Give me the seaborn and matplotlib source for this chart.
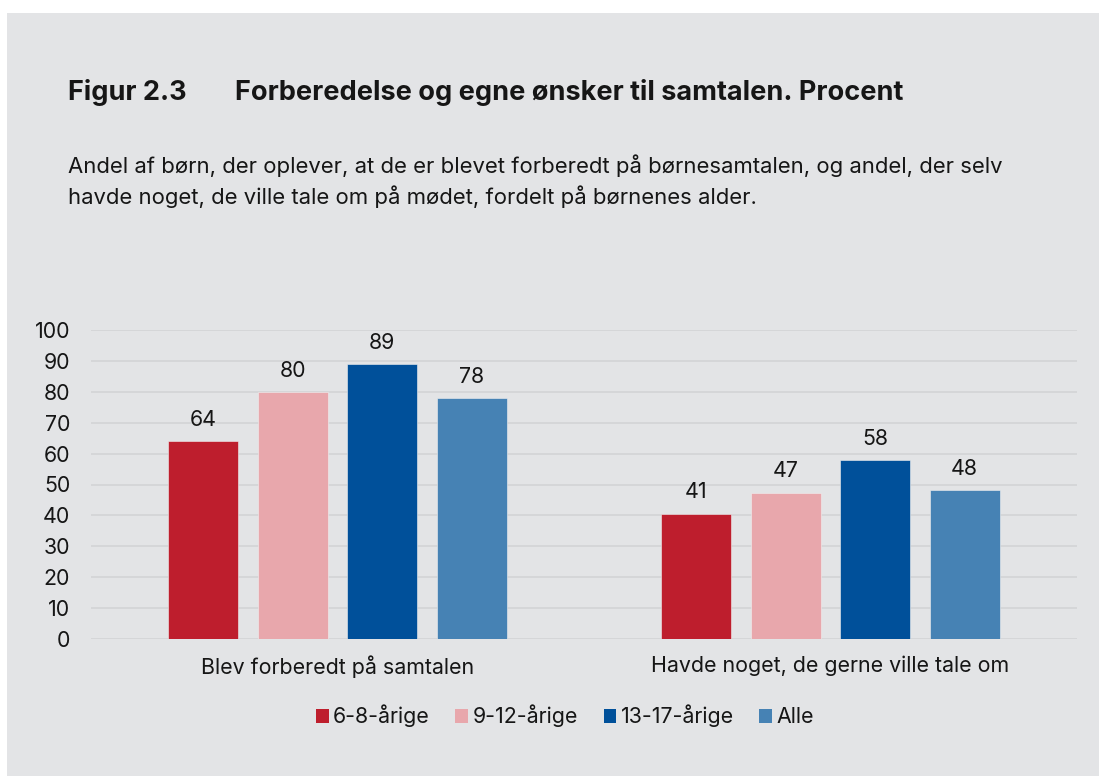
import seaborn as sns
import matplotlib.pyplot as plt
import pandas as pd
from matplotlib.patches import Patch, Rectangle

sns.set_style("white")
plt.rcParams["font.family"] = ["Inter", "DejaVu Sans"]

# Data
categories = ["Blev forberedt på samtalen", "Havde noget, de gerne ville tale om"]
age_groups = ["6-8-årige", "9-12-årige", "13-17-årige", "Alle"]
prepared = [64, 80, 89, 78]
wanted_to_talk = [40.6, 47.4, 58.0, 48.2]
colors = ["#be1e2d", "#e8a7ac", "#00509a", "#4682b4"]

rows = []
for grp, v1, v2 in zip(age_groups, prepared, wanted_to_talk):
    rows.append({"kategori": categories[0], "alder": grp, "procent": v1})
    rows.append({"kategori": categories[1], "alder": grp, "procent": v2})
df = pd.DataFrame(rows)

text_color = "#161616"
bg = "#e3e4e6"
W, H = 1099, 776

fig = plt.figure(figsize=(W / 100, H / 100), dpi=100, facecolor="white")
fig.patches.append(Rectangle((7 / W, 0), 1 - 7 / W, 1 - 13 / H,
                             transform=fig.transFigure, facecolor=bg,
                             edgecolor="none", zorder=-10))

ax = fig.add_axes([91 / W, (H - 639) / H, 986 / W, 309 / H])
ax.set_facecolor("none")

sns.barplot(data=df, x="kategori", y="procent", hue="alder",
            order=categories, hue_order=age_groups, palette=colors,
            saturation=1, width=0.726, gap=0.22, edgecolor="#f0f0f0",
            linewidth=0.4, legend=False, ax=ax, zorder=3)

for cont in ax.containers:
    ax.bar_label(cont, fmt="%.0f", padding=8, fontsize=15.4, color=text_color)

ax.set_ylim(0, 100)
ax.set_xlim(-0.5, 1.5)
ax.set_yticks(range(0, 101, 10))
ax.yaxis.grid(True, color="#d3d4d6", linewidth=1.2, zorder=0)
ax.set_axisbelow(True)
for s in ax.spines.values():
    s.set_visible(False)
ax.tick_params(axis="both", length=0, labelsize=15.4, labelcolor=text_color)
ax.tick_params(axis="y", pad=15)
ax.tick_params(axis="x", pad=12)
ax.set_xlabel("")
ax.set_ylabel("")

# Titles
fig.text(68 / W, 1 - 100 / H, "Figur 2.3", fontsize=19.5, fontweight="bold",
         color=text_color, va="baseline")
fig.text(235 / W, 1 - 100 / H, "Forberedelse og egne ønsker til samtalen. Procent",
         fontsize=19.5, fontweight="bold", color=text_color, va="baseline")
fig.text(68 / W, 1 - 173 / H,
         "Andel af børn, der oplever, at de er blevet forberedt på børnesamtalen, og andel, der selv",
         fontsize=15.9, color=text_color, va="baseline")
fig.text(68 / W, 1 - 204 / H,
         "havde noget, de ville tale om på mødet, fordelt på børnenes alder.",
         fontsize=15.9, color=text_color, va="baseline")

handles = [Patch(facecolor=c, edgecolor="none") for c in colors]
fig.legend(handles, age_groups, loc="center", bbox_to_anchor=(565 / W, 1 - 716 / H),
           ncol=4, frameon=False, fontsize=15.4, handlelength=0.6, handleheight=0.6,
           handletextpad=0.2, columnspacing=1.2, labelcolor=text_color)

fig.savefig("out.png", dpi=100, facecolor=fig.get_facecolor())
plt.close(fig)
